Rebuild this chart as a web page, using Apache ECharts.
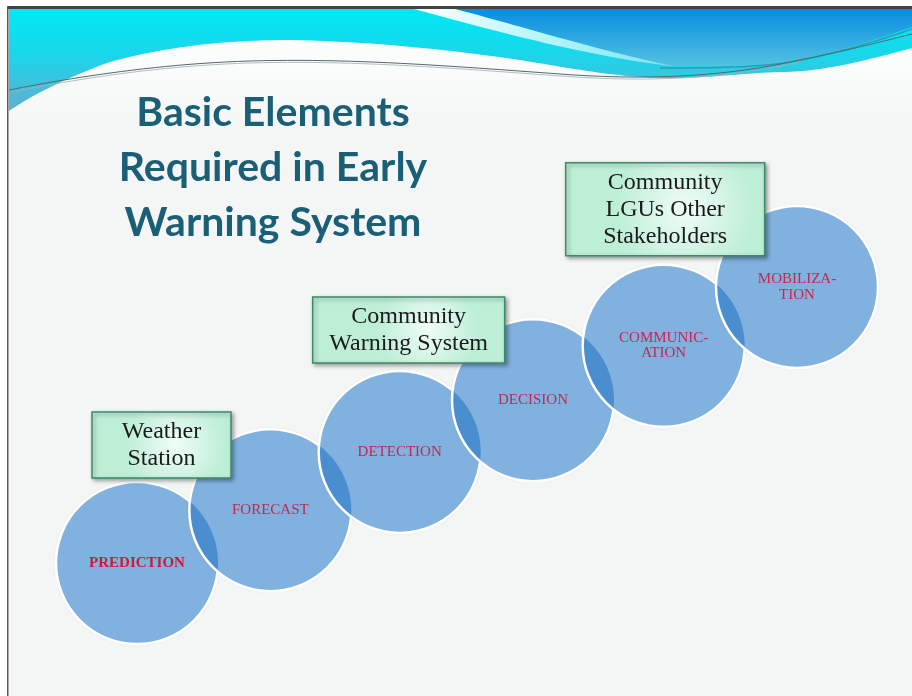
<!DOCTYPE html>
<html>
<head>
<meta charset="utf-8">
<script src="https://cdn.jsdelivr.net/npm/echarts@6/dist/echarts.min.js"></script>
<style>
html,body{margin:0;padding:0;background:#fff;}
#chart{width:912px;height:696px;}
</style>
</head>
<body>
<div id="chart"></div>
<script>
// ---- data ----
const titleLines = ['Basic Elements', 'Required in Early', 'Warning System'];
const steps = ['PREDICTION', 'FORECAST', 'DETECTION', 'DECISION', 'COMMUNIC-\nATION', 'MOBILIZA-\nTION'];
const stepPos = [0, 1.01, 1.99, 3.0, 3.99, 5.0];
const stepLevel = [1, 1.96, 3.02, 3.96, 4.95, 6.02];
const notes = ['Weather\nStation', 'Community\nWarning System', 'Community\nLGUs Other\nStakeholders'];
const noteStep = [0, 2, 4];

// ---- styles / layout ----
const R = 81;
const CIRCLE_FILL = '#80b1df';
const LENS_FILL = '#4b8ed0';
const LABEL_COLOR = '#c02a52';
const noteLayout = [
  {dx: 24.5, dy: -118, w: 139, h: 66},
  {dx: 9, dy: -122, w: 192, h: 66},
  {dx: 1.5, dy: -136.5, w: 199, h: 93}
];

function lin(x, y, x2, y2, stops, global) {
  return {type: 'linear', x: x, y: y, x2: x2, y2: y2, global: !!global,
    colorStops: stops.map(s => ({offset: s[0], color: s[1]}))};
}
function rad(x, y, r, stops) {
  return {type: 'radial', x: x, y: y, r: r,
    colorStops: stops.map(s => ({offset: s[0], color: s[1]}))};
}
// sample simple absolute M/L/C path strings into point lists (decoration only)
function samplePath(d) {
  const tok = d.replace(/([MLCZ])/g, ' $1 ').replace(/,/g, ' ').trim().split(/\s+/);
  const pts = [];
  let i = 0, cur = [0, 0], cmd = '';
  while (i < tok.length) {
    if (/[MLCZ]/.test(tok[i])) { cmd = tok[i++]; if (cmd === 'Z') continue; }
    if (cmd === 'M' || cmd === 'L') {
      cur = [+tok[i], +tok[i + 1]]; i += 2; pts.push(cur.slice());
    } else if (cmd === 'C') {
      const p1 = [+tok[i], +tok[i + 1]], p2 = [+tok[i + 2], +tok[i + 3]], p3 = [+tok[i + 4], +tok[i + 5]];
      i += 6;
      for (let k = 1; k <= 24; k++) {
        const t = k / 24, u = 1 - t;
        pts.push([
          u * u * u * cur[0] + 3 * u * u * t * p1[0] + 3 * u * t * t * p2[0] + t * t * t * p3[0],
          u * u * u * cur[1] + 3 * u * u * t * p1[1] + 3 * u * t * t * p2[1] + t * t * t * p3[1]
        ]);
      }
      cur = p3;
    } else { i++; }
  }
  return pts;
}

const chart = echarts.init(document.getElementById('chart'), null, {renderer: 'canvas'});

function lensPoints(a, b, r) {
  const dx = a[0] - b[0], dy = a[1] - b[1];
  const d = Math.sqrt(dx * dx + dy * dy);
  if (d >= 2 * r) return null;
  const alpha = Math.acos(d / (2 * r));
  const tBA = Math.atan2(dy, dx);
  const tAB = tBA + Math.PI;
  const pts = [];
  const n = 40;
  for (let k = 0; k <= n; k++) {
    const t = tBA - alpha + 2 * alpha * k / n;
    pts.push([b[0] + r * Math.cos(t), b[1] + r * Math.sin(t)]);
  }
  for (let k = 0; k <= n; k++) {
    const t = tAB - alpha + 2 * alpha * k / n;
    pts.push([a[0] + r * Math.cos(t), a[1] + r * Math.sin(t)]);
  }
  return pts;
}

const option = {
  backgroundColor: '#f4f6f6',
  animation: false,
  grid: {left: 5, right: 49, top: 13, bottom: 78},
  xAxis: {type: 'value', min: -1, max: 5.5, show: false},
  yAxis: {type: 'value', min: 0, max: 11, show: false},
  graphic: [
    {type: 'rect', z: -10, shape: {x: 0, y: 0, width: 912, height: 6}, style: {fill: '#ffffff'}},
    {type: 'rect', z: -10, shape: {x: 0, y: 0, width: 7, height: 696}, style: {fill: '#ffffff'}},
    {type: 'rect', z: -10, shape: {x: 9, y: 9, width: 903, height: 120},
      style: {fill: lin(0, 60, 0, 130, [[0, '#fbfcfc'], [1, '#f4f6f6']], true)}},
    {type: 'rect', z: -9, shape: {x: 7, y: 6, width: 905, height: 3}, style: {fill: '#434343'}},
    {type: 'rect', z: -9, shape: {x: 7, y: 6, width: 1.5, height: 690}, style: {fill: '#5a5a5a'}},
    {type: 'polygon', z: -8,
      shape: {points: samplePath('M9,9 L912,9 L912,48 C860,62 820,72 780,72 C730,74 700,79 660,78 C620,77 580,70 520,60 C450,50 380,42 290,40 C220,40 160,48 110,62 C70,76 30,96 9,111 Z')},
      style: {fill: lin(0, 9, 0, 111, [[0, '#00e8f4'], [0.45, '#1ad6ea'], [1, '#62aed0']], true)}},
    {type: 'polygon', z: -7,
      shape: {points: samplePath('M455,9 C520,26 590,48 670,66 C720,66 760,66 790,61 C840,52 880,38 912,27 L912,9 Z')},
      style: {fill: lin(0, 9, 0, 68, [[0, '#078de0'], [1, '#55c4e2']], true)}},
    {type: 'polygon', z: -6,
      shape: {points: samplePath('M414,9 L455,9 C520,26 590,48 672,66 C600,58 520,38 414,9 Z')},
      style: {fill: lin(0, 0, 1, 0, [[0, 'rgba(255,255,255,1)'], [1, 'rgba(255,255,255,0.4)']])}},
    {type: 'polyline', z: -6,
      shape: {points: samplePath('M660,68 C720,68 760,67 790,62 C840,53 880,40 912,29')},
      style: {fill: null, stroke: '#2a9cb4', lineWidth: 1.5}},
    {type: 'polyline', z: -6,
      shape: {points: samplePath('M9,90 C60,80 150,64 250,61 C350,58 450,66 560,74 C640,80 720,78 800,60 C850,50 880,42 912,34')},
      style: {fill: null, stroke: '#56686e', lineWidth: 1}},
    {type: 'polyline', z: -6,
      shape: {points: samplePath('M9,93 C60,82 150,66 250,63 C350,60 450,68 560,76 C640,82 720,80 800,62')},
      style: {fill: null, stroke: '#9fb0b4', lineWidth: 0.8}},
    {type: 'text', z: 5, x: 273, y: 85,
      style: {text: titleLines.join('\n'), font: 'bold 41px Lato', lineHeight: 55,
        fill: '#1b5f77', align: 'center', verticalAlign: 'top', textAlign: 'center', textVerticalAlign: 'top'}}
  ],
  series: [
    {
      type: 'custom',
      z: 2,
      data: steps.map((s, i) => [stepPos[i], stepLevel[i]]),
      encode: {x: 0, y: 1},
      renderItem: function (params, api) {
        const i = params.dataIndex;
        const c = api.coord([api.value(0), api.value(1)]);
        const children = [];
        children.push({type: 'circle', shape: {cx: c[0], cy: c[1], r: R},
          style: {fill: CIRCLE_FILL, shadowBlur: 3, shadowColor: 'rgba(0,0,0,0.12)'}});
        if (i > 0) {
          const p = api.coord([stepPos[i - 1], stepLevel[i - 1]]);
          const pts = lensPoints(p, c, R);
          if (pts) children.push({type: 'polygon', shape: {points: pts}, style: {fill: LENS_FILL}});
        }
        children.push({type: 'circle', shape: {cx: c[0], cy: c[1], r: R},
          style: {fill: null, stroke: '#ffffff', lineWidth: 2.5}});
        const bold = i === 0;
        children.push({type: 'text', x: c[0], y: c[1],
          style: {text: steps[i], font: (bold ? 'bold ' : '') + '15px "Liberation Serif"',
            lineHeight: 15.5, fill: bold ? '#d01838' : LABEL_COLOR,
            align: 'center', verticalAlign: 'middle', textAlign: 'center', textVerticalAlign: 'middle'}});
        return {type: 'group', children: children};
      }
    },
    {
      type: 'custom',
      z: 3,
      data: noteStep.map(s => [stepPos[s], stepLevel[s]]),
      encode: {x: 0, y: 1},
      renderItem: function (params, api) {
        const i = params.dataIndex;
        const c = api.coord([api.value(0), api.value(1)]);
        const L = noteLayout[i];
        const cx = c[0] + L.dx, cy = c[1] + L.dy;
        return {type: 'group', children: [
          {type: 'rect', shape: {x: cx - L.w / 2, y: cy - L.h / 2, width: L.w, height: L.h},
            style: {
              fill: rad(0.6, 0.5, 0.75, [[0, '#f0fdf7'], [1, '#bdeed6']]),
              stroke: '#3b8a6c', lineWidth: 1.5,
              shadowBlur: 4, shadowOffsetX: 2, shadowOffsetY: 2, shadowColor: 'rgba(0,0,0,0.35)'
            }},
          {type: 'text', x: cx, y: cy,
            style: {text: notes[i], font: '24px "Liberation Serif"', lineHeight: 27, fill: '#1a1a1a',
              align: 'center', verticalAlign: 'middle', textAlign: 'center', textVerticalAlign: 'middle'}}
        ]};
      }
    }
  ]
};
chart.setOption(option);
</script>
</body>
</html>
